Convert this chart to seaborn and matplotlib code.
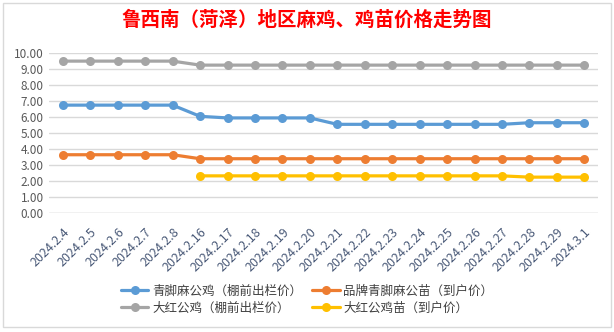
import numpy as np
import pandas as pd
import matplotlib
matplotlib.use("Agg")
import matplotlib.pyplot as plt
import seaborn as sns
from matplotlib.lines import Line2D
from matplotlib.patches import Rectangle

dates = ["2024.2.4", "2024.2.5", "2024.2.6", "2024.2.7", "2024.2.8", "2024.2.16",
         "2024.2.17", "2024.2.18", "2024.2.19", "2024.2.20", "2024.2.21", "2024.2.22",
         "2024.2.23", "2024.2.24", "2024.2.25", "2024.2.26", "2024.2.27", "2024.2.28",
         "2024.2.29", "2024.3.1"]
qingjiao_gongji = [6.75, 6.75, 6.75, 6.75, 6.75, 6.05, 5.95, 5.95, 5.95, 5.95,
                   5.55, 5.55, 5.55, 5.55, 5.55, 5.55, 5.55, 5.65, 5.65, 5.65]
pinpai_miao = [3.65, 3.65, 3.65, 3.65, 3.65, 3.4, 3.4, 3.4, 3.4, 3.4,
               3.4, 3.4, 3.4, 3.4, 3.4, 3.4, 3.4, 3.4, 3.4, 3.4]
dahong_gongji = [9.5, 9.5, 9.5, 9.5, 9.5, 9.25, 9.25, 9.25, 9.25, 9.25,
                 9.25, 9.25, 9.25, 9.25, 9.25, 9.25, 9.25, 9.25, 9.25, 9.25]
dahong_miao = [np.nan, np.nan, np.nan, np.nan, np.nan, 2.33, 2.33, 2.33, 2.33, 2.33,
               2.33, 2.33, 2.33, 2.33, 2.33, 2.33, 2.33, 2.25, 2.25, 2.25]
series_names = ["青脚麻公鸡（棚前出栏价）", "品牌青脚麻公苗（到户价）",
                "大红公鸡（棚前出栏价）", "大红公鸡苗（到户价）"]
colors = ["#5B9BD5", "#ED7D31", "#A5A5A5", "#FFC000"]
title = "鲁西南（菏泽）地区麻鸡、鸡苗价格走势图"

sns.set_theme(style="white")
plt.rcParams['font.family'] = ['Noto Sans CJK SC', 'DejaVu Sans']

n = len(dates)
rows = []
for name, vals in zip(series_names, [qingjiao_gongji, pinpai_miao, dahong_gongji, dahong_miao]):
    for i, v in enumerate(vals):
        rows.append({"idx": i, "date": dates[i], "series": name, "value": v})
df = pd.DataFrame(rows).dropna()

fig = plt.figure(figsize=(6.14, 3.32), dpi=100)
ax = fig.add_axes([0.08, 0.358, 0.894, 0.482])

sns.lineplot(data=df, x="idx", y="value", hue="series", hue_order=series_names,
             palette=colors, marker="o", markersize=6.5, markeredgewidth=0,
             linewidth=2.3, ax=ax, legend=False, zorder=3)

ax.set_xlim(-0.5, n - 0.5)
ax.set_ylim(0, 10)
ax.set_yticks(np.arange(0, 11, 1))
ax.set_yticklabels([f"{v:.2f}" for v in np.arange(0, 11, 1)], fontsize=8.5, color="#595959")
ax.set_xticks(range(n))
ax.set_xticklabels(dates, rotation=45, ha="right", rotation_mode="anchor",
                   fontsize=9, color="#4a5a78")
ax.tick_params(axis="y", length=0, pad=4)
ax.tick_params(axis="x", length=0, pad=9)
ax.set_xlabel("")
ax.set_ylabel("")
ax.grid(axis="y", color="#D9D9D9", linewidth=1)
for s in ax.spines.values():
    s.set_visible(False)
ax.axhline(0, color="#D9D9D9", linewidth=1, zorder=1)

fig.text(0.5, 0.94, title, ha="center", va="center", fontsize=14,
         fontweight="bold", color="#FF0000")

handles = [Line2D([0], [0], color=c, linewidth=2.3, marker="o", markersize=6.5,
                  markeredgewidth=0) for c in colors]
order = [0, 2, 1, 3]
fig.legend([handles[i] for i in order], [series_names[i] for i in order],
           loc="center", bbox_to_anchor=(0.5, 0.098),
           ncol=2, frameon=False, fontsize=9, labelcolor="#404040",
           handlelength=2.2, columnspacing=0.8, handletextpad=0.3, labelspacing=0.3)

fig.patches.append(Rectangle((0.005, 0.015), 0.99, 0.975, transform=fig.transFigure,
                             fill=False, edgecolor="#D9D9D9", linewidth=1))

fig.savefig("out.png", dpi=100)
